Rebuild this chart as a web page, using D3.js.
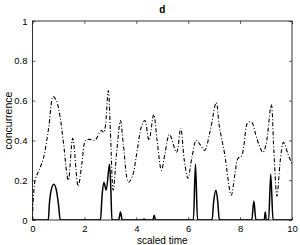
<!DOCTYPE html>
<html><head><meta charset="utf-8">
<script src="https://cdn.jsdelivr.net/npm/d3@7"></script>
<style>
body{margin:0;background:#fff;}
text{font-family:"Liberation Sans",Arial,Helvetica,sans-serif;}
</style></head>
<body><svg id="c" width="300" height="245"></svg>
<script>
const dashedX = [0,0.1,0.25,0.42,0.62,0.8,0.92,1.06,1.2,1.38,1.55,1.76,1.9,2.05,2.2,2.4,2.55,2.66,2.75,2.92,3.0,3.11,3.25,3.39,3.5,3.7,3.85,4.0,4.2,4.33,4.49,4.67,4.8,4.97,5.1,5.28,5.55,5.71,5.85,5.99,6.15,6.31,6.45,6.63,6.85,7.08,7.2,7.4,7.66,7.8,7.92,8.05,8.15,8.3,8.45,8.6,8.75,8.88,9.0,9.2,9.3,9.42,9.55,9.67,9.85,10];
const dashedY = [0,0.2,0.25,0.31,0.46,0.62,0.6,0.52,0.38,0.2,0.41,0.17,0.28,0.4,0.405,0.4,0.43,0.45,0.44,0.65,0.45,0.15,0.35,0.5,0.38,0.19,0.22,0.32,0.47,0.5,0.4,0.53,0.4,0.25,0.33,0.43,0.34,0.46,0.3,0.21,0.32,0.4,0.38,0.35,0.45,0.59,0.47,0.335,0.125,0.23,0.31,0.32,0.38,0.49,0.49,0.43,0.37,0.34,0.38,0.58,0.35,0.12,0.3,0.39,0.33,0.28];
const solidX = [0,0.61,0.65,0.72,0.82,0.92,1.0,1.07,2.62,2.68,2.75,2.84,2.97,3.02,3.06,3.32,3.39,3.46,4.25,4.3,4.35,4.64,4.69,4.74,6.2,6.28,6.36,6.92,6.98,7.07,7.14,7.2,8.45,8.53,8.61,8.93,8.97,9.01,9.1,9.18,9.27,10];
const solidY = [0,0,0.08,0.15,0.18,0.15,0.08,0,0,0.12,0.19,0.15,0.28,0.15,0,0,0.04,0,0,0.005,0,0,0.024,0,0,0.28,0,0,0.09,0.15,0.09,0,0,0.095,0,0,0.04,0,0,0.23,0,0];
const xTicks = [0,2,4,6,8,10];
const yTicks = [0,0.2,0.4,0.6,0.8,1];
const title = "d", xLabel = "scaled time", yLabel = "concurrence";

const svg = d3.select("#c");
const L = 32.5, R = 292, T = 21, B = 220;
const x = d3.scaleLinear().domain([0,10]).range([L,R]);
const y = d3.scaleLinear().domain([0,1]).range([B,T]);

svg.append("defs").append("clipPath").attr("id","cp").append("rect")
  .attr("x",L).attr("y",T).attr("width",R-L).attr("height",B-T);

const g = svg.append("g").attr("clip-path","url(#cp)");
const dashed = dashedX.map((v,i)=>[v,dashedY[i]]);
const solid = solidX.map((v,i)=>[v,solidY[i]]);
g.append("path").datum(dashed)
  .attr("d", d3.line().x(d=>x(d[0])).y(d=>y(d[1])).curve(d3.curveCatmullRom.alpha(0.5)))
  .attr("fill","none").attr("stroke","#000").attr("stroke-width",1.1)
  .attr("stroke-dasharray","4,2,1,2");
g.append("path").datum(solid)
  .attr("d", d3.line().x(d=>x(d[0])).y(d=>y(d[1])).curve(d3.curveMonotoneX))
  .attr("fill","none").attr("stroke","#000").attr("stroke-width",1.5);

// axes
const fs = 9.5;
const ax = svg.append("g").attr("transform",`translate(0,${B})`)
  .call(d3.axisBottom(x).tickValues(xTicks).tickSize(-3).tickPadding(5).tickFormat(d3.format("d")));
const ay = svg.append("g").attr("transform",`translate(${L},0)`)
  .call(d3.axisLeft(y).tickValues(yTicks).tickSize(-3).tickPadding(5).tickFormat(d=>d===0||d===1?String(d):d3.format(".1f")(d)));
const axT = svg.append("g").attr("transform",`translate(0,${T})`)
  .call(d3.axisTop(x).tickValues(xTicks).tickSize(-3).tickFormat(""));
const ayR = svg.append("g").attr("transform",`translate(${R},0)`)
  .call(d3.axisRight(y).tickValues(yTicks).tickSize(-3).tickFormat(""));
[ax,ay,axT,ayR].forEach(a=>{
  a.selectAll(".domain").remove();
  a.selectAll("line").attr("stroke","#000").attr("stroke-width",0.6);
  a.selectAll("text").attr("font-size",fs).attr("fill","#000")
   .style("font-family",'"Liberation Sans",Arial,sans-serif');
});
ax.selectAll("text").attr("dy","0.71em");
svg.append("rect").attr("x",L).attr("y",T).attr("width",R-L).attr("height",B-T)
  .attr("fill","none").attr("stroke","#000").attr("stroke-width",0.8);

svg.append("text").attr("x",(L+R)/2).attr("y",13).attr("text-anchor","middle")
  .attr("font-size",10).attr("font-weight","bold").text(title);
svg.append("text").attr("x",(L+R)/2).attr("y",244).attr("text-anchor","middle")
  .attr("font-size",10).text(xLabel);
svg.append("text").attr("transform",`translate(12,${(T+B)/2}) rotate(-90)`)
  .attr("text-anchor","middle").attr("font-size",10.5).text(yLabel);
</script></body></html>
